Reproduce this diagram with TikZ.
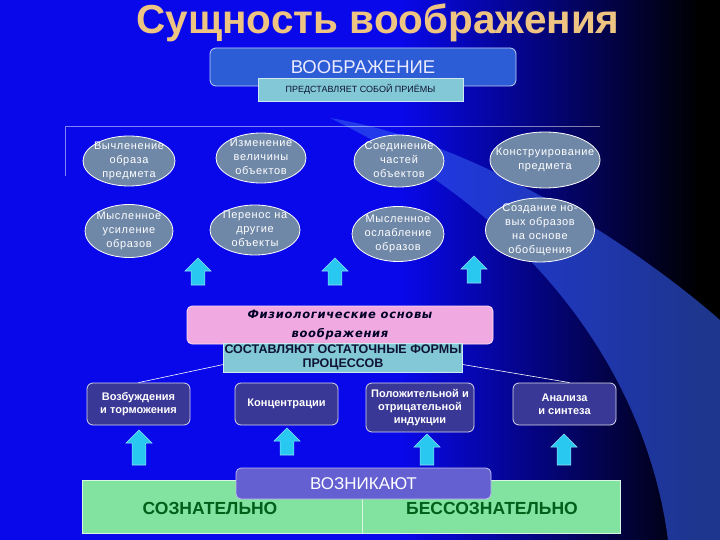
\documentclass[tikz,border=0pt]{standalone}
\usepackage{fontspec}
\setmainfont{Liberation Sans}
\newfontfamily\widefont{DejaVu Sans}
\usetikzlibrary{shapes.geometric,shapes.arrows}

\definecolor{bgblue}{RGB}{8,8,235}
\definecolor{swoosh}{RGB}{50,90,235}
\definecolor{titlecol}{RGB}{238,196,130}
\definecolor{headblue}{RGB}{45,92,215}
\definecolor{notecyan}{RGB}{130,200,215}
\definecolor{notetext}{RGB}{15,20,50}
\definecolor{ovalgray}{RGB}{112,136,168}
\definecolor{procblue}{RGB}{58,56,150}
\definecolor{pinkbox}{RGB}{240,170,225}
\definecolor{arrcyan}{RGB}{40,200,240}
\definecolor{greenbox}{RGB}{130,226,160}
\definecolor{greentext}{RGB}{0,95,25}
\definecolor{arisebox}{RGB}{100,96,210}

\newcommand{\ovaltext}[1]{\raisebox{-2.5pt}[0pt][0pt]{\makebox[0pt]{\begin{tabular}{@{}c@{}}#1\end{tabular}}}}

\begin{document}
\begin{tikzpicture}[x=1pt,y=-1pt,
	oval/.style={ellipse, draw=white, line width=0.8pt, fill=ovalgray, text=white, inner sep=0pt,
		minimum width=92pt, minimum height=50pt, font=\fontsize{11}{14}\selectfont\addfontfeature{LetterSpace=6}},
	procbox/.style={rectangle, rounded corners=6pt, draw=white!80!procblue, line width=0.8pt, fill=procblue,
		text=white, align=center, inner sep=0pt, minimum width=103pt, minimum height=42pt,
		font=\fontsize{11}{13}\selectfont\bfseries},
	notebox/.style={rectangle, fill=notecyan, draw=white!60!notecyan, text=notetext, align=center, inner sep=0pt},
	uparr/.style={single arrow, shape border rotate=90, fill=arrcyan, draw=arrcyan!50!white, line width=0.6pt,
		inner sep=6.5pt, minimum width=26pt, minimum height=27pt, single arrow head extend=6pt},
	thinline/.style={white, line width=0.6pt}]

	\useasboundingbox (0,0) rectangle (720,540);
	\fill[bgblue] (0,0) rectangle (720,540);
	\shade[left color=bgblue, right color=black] (400,0) rectangle (700,540);
	\fill[black] (700,0) rectangle (720,540);
	\fill[swoosh, opacity=0.6] (330,118) .. controls (480,142) and (640,250) .. (720,320) -- (720,540) -- (668,540)
		.. controls (650,400) and (560,230) .. (330,118);

	\node[text=titlecol, font=\fontsize{40.5}{46}\selectfont\bfseries] (title) at (378,23) {Сущность воображения};

	\node[rectangle, rounded corners=6pt, fill=headblue, draw=white!70!headblue, line width=0.8pt, text=white!92!blue,
		minimum width=306pt, minimum height=38pt, font=\fontsize{18.5}{21}\selectfont] (imag) at (363,67) {ВООБРАЖЕНИЕ};
	\node[notebox, minimum width=205pt, minimum height=23pt, font=\fontsize{9}{11}\selectfont] (techn) at (360.5,89.5)
		{ПРЕДСТАВЛЯЕТ СОБОЙ ПРИЁМЫ};

	\coordinate (brdown) at (65,176);
	\coordinate (brcorner) at (65,126);
	\coordinate (brend) at (600,126);
	\draw[thinline, opacity=0.5] (brdown) -- (brcorner) -- (brend);

	\node[oval] (o1) at (129,161) {\ovaltext{Вычленение\\образа\\предмета}};
	\node[oval, minimum width=90pt] (o2) at (261,158) {\ovaltext{Изменение\\величины\\объектов}};
	\node[oval, minimum width=90pt, minimum height=52pt] (o3) at (399,161) {\ovaltext{Соединение\\частей\\объектов}};
	\node[oval, minimum width=110pt, minimum height=56pt] (o4) at (545,160) {\ovaltext{Конструирование\\предмета}};
	\node[oval, minimum width=88pt, minimum height=53pt] (o5) at (129,231) {\ovaltext{Мысленное\\усиление\\образов}};
	\node[oval, minimum width=90pt] (o6) at (255,230) {\ovaltext{Перенос на\\другие\\объекты}};
	\node[oval, minimum width=92pt, minimum height=55pt] (o7) at (398,234) {\ovaltext{Мысленное\\ослабление\\образов}};
	\node[oval, minimum width=109pt, minimum height=64pt] (o8) at (540,230) {\ovaltext{Создание но-\\вых образов\\на основе\\обобщения}};

	\node[uparr] (a1) at (198,275) {};
	\node[uparr] (a2) at (335,275) {};
	\node[uparr] (a3) at (474,273) {};

	\node[rectangle, rounded corners=5pt, fill=pinkbox, draw=white!60!pinkbox, line width=0.8pt, text=black!85!blue,
		minimum width=306pt, minimum height=38pt, inner sep=0pt, align=center,
		font=\widefont\fontsize{11.5}{19}\selectfont\bfseries\itshape\addfontfeature{LetterSpace=6}] (physio) at (340,325)
		{Физиологические основы\\воображения};
	\node[notebox, minimum width=239pt, minimum height=29pt, font=\fontsize{12.5}{14}\selectfont\bfseries] (sost) at (343,357.5)
		{СОСТАВЛЯЮТ ОСТАТОЧНЫЕ ФОРМЫ\\ПРОЦЕССОВ};

	\node[procbox] (exc) at (138.5,404) {Возбуждения\\и торможения};
	\node[procbox] (conc) at (286.5,404) {Концентрации};
	\node[procbox, minimum width=108pt, minimum height=49pt] (induc) at (420,407.5) {Положительной и\\отрицательной\\индукции};
	\node[procbox] (anal) at (564.5,404) {Анализа\\и синтеза};

	\draw[thinline] ([yshift=-7pt]sost.west) -- (exc.north);
	\draw[thinline] ([yshift=-7pt]sost.east) -- ([xshift=5pt]anal.north);

	\node[uparr, minimum height=35pt] (b1) at (139,451) {};
	\node[uparr] (b2) at (287,445) {};
	\node[uparr, minimum height=31pt] (b3) at (427,453) {};
	\node[uparr, minimum height=31pt] (b4) at (564,453) {};

	\node[rectangle, fill=greenbox, draw=white!70!greenbox, line width=0.8pt, minimum width=280pt, minimum height=53pt,
		inner sep=0pt] (consc) at (222,506.5) {};
	\node[rectangle, fill=greenbox, draw=white!70!greenbox, line width=0.8pt, minimum width=258pt, minimum height=53pt,
		inner sep=0pt] (uncons) at (491,506.5) {};
	\node[text=greentext, font=\fontsize{17.5}{20}\selectfont\bfseries] (consctext) at (210,508) {СОЗНАТЕЛЬНО};
	\node[text=greentext, font=\fontsize{17.5}{20}\selectfont\bfseries] (uncontext) at (492,508) {БЕССОЗНАТЕЛЬНО};

	\node[rectangle, rounded corners=5pt, fill=arisebox, draw=white!60!arisebox, line width=0.8pt, text=white,
		minimum width=255pt, minimum height=31pt, font=\fontsize{17}{20}\selectfont] (arise) at (363.5,483.5) {ВОЗНИКАЮТ};
\end{tikzpicture}
\end{document}
